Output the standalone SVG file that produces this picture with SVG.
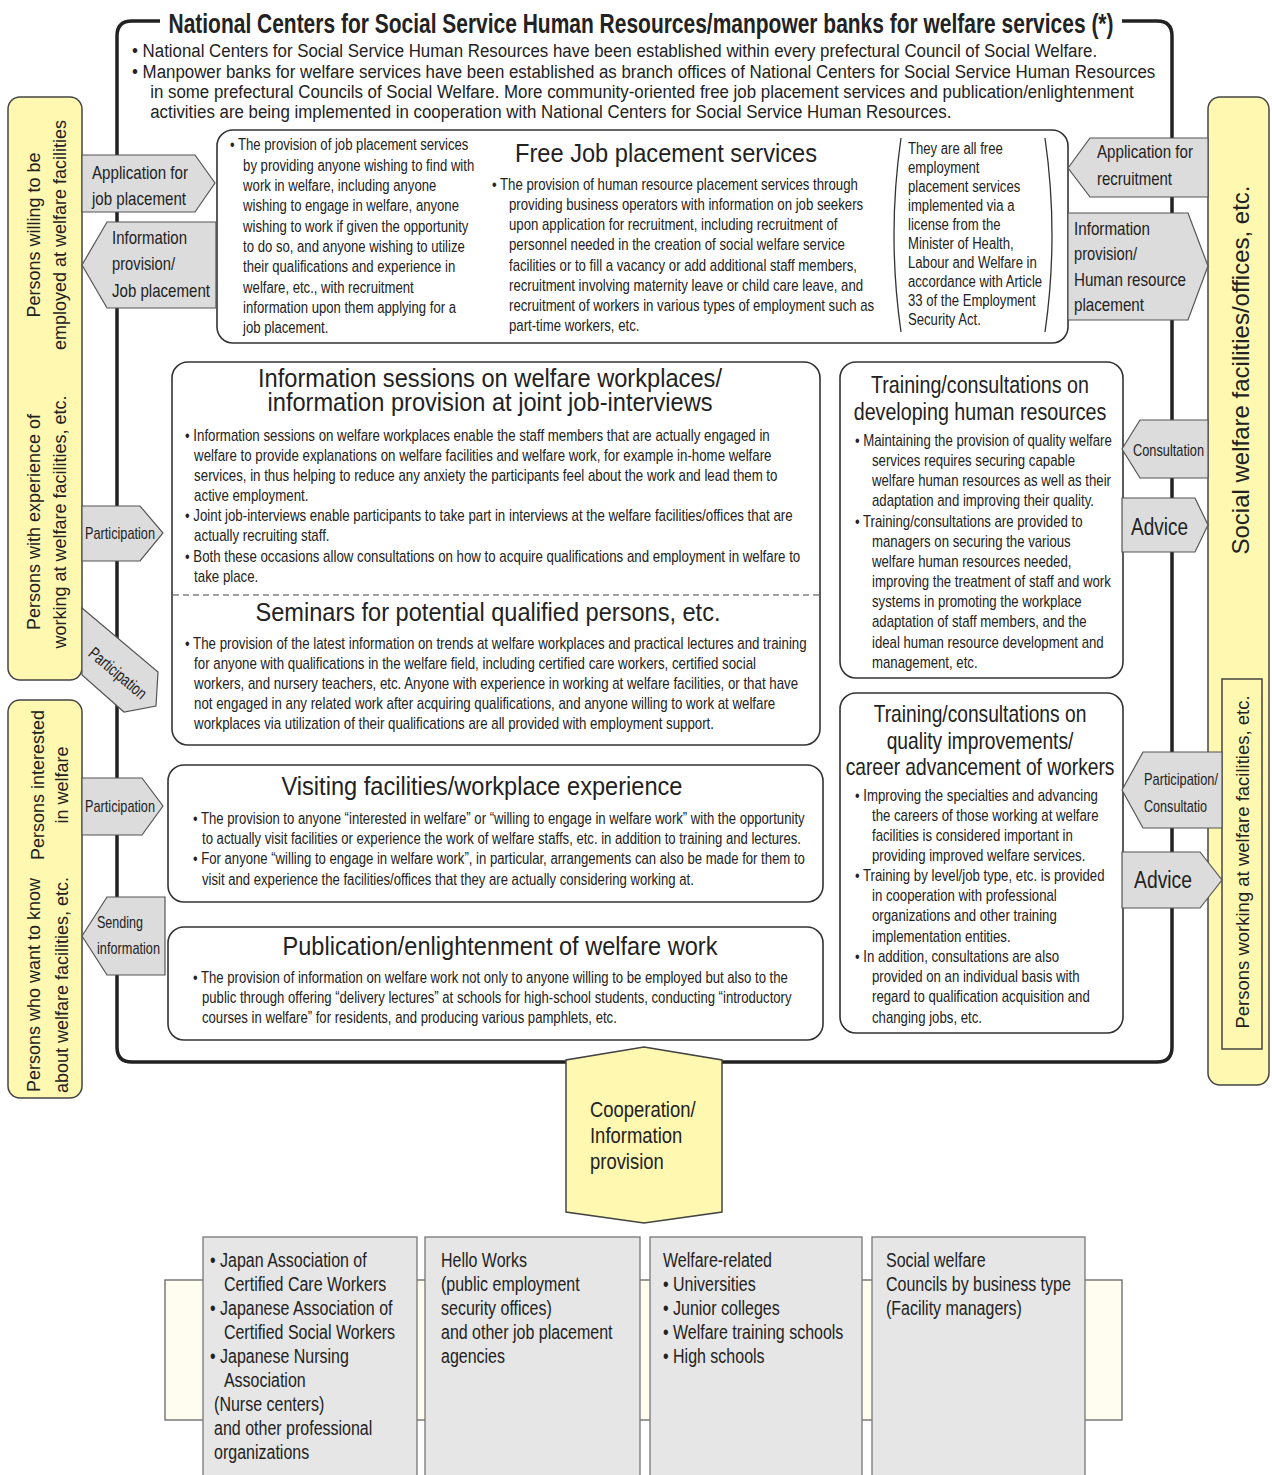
<svg xmlns="http://www.w3.org/2000/svg" width="1272" height="1475" viewBox="0 0 1272 1475">
<style>
text{font-family:"Liberation Sans",Arial,sans-serif;fill:#222}
.b{font-size:16px}
.top{font-size:19px}
.ttl{font-size:25px;text-anchor:middle}
.rt{font-size:24px;text-anchor:middle}
.lab{font-size:19px}
.lab2{font-size:17px}
.side{font-size:18px;text-anchor:middle}
.bot{font-size:19.5px}
.box{fill:#fff;stroke:#333;stroke-width:1.6}
.arr{fill:#dcdcdc;stroke:#555;stroke-width:1.2}
.yel{fill:#fff8b0;stroke:#444;stroke-width:1.5}
.gbox{fill:#e6e6e6;stroke:#777;stroke-width:1.3}
</style>
<rect width="1272" height="1475" fill="#fff"/>

<!-- main frame -->
<g id="frame">
<path d="M160 21 H132 Q117 21 117 36 V1047 Q117 1062 132 1062 H1157 Q1172 1062 1172 1047 V36 Q1172 21 1157 21 H1122" fill="none" stroke="#222" stroke-width="3.5"/>
<text x="641" y="33" text-anchor="middle" font-size="27" font-weight="bold" textLength="945" lengthAdjust="spacingAndGlyphs">National Centers for Social Service Human Resources/manpower banks for welfare services (*)</text>
<g transform="translate(132,0) scale(0.888,1)" class="top">
<text x="0" y="57.5">• National Centers for Social Service Human Resources have been established within every prefectural Council of Social Welfare.</text>
<text x="0" y="78">• Manpower banks for welfare services have been established as branch offices of National Centers for Social Service Human Resources</text>
<text x="20.5" y="98">in some prefectural Councils of Social Welfare. More community-oriented free job placement services and publication/enlightenment</text>
<text x="20.5" y="118">activities are being implemented in cooperation with National Centers for Social Service Human Resources.</text>
</g>
</g>

<!-- Free job placement -->
<g id="free-job">
<rect class="box" x="217" y="130" width="851" height="213" rx="16"/>
<text class="ttl" x="666" y="162" font-size="27" textLength="302" lengthAdjust="spacingAndGlyphs">Free Job placement services</text>
<g transform="translate(230,0) scale(0.82,1)" class="b">
<text x="0" y="150.5">• The provision of job placement services</text>
<text x="16" y="171">by providing anyone wishing to find with</text>
<text x="16" y="191">work in welfare, including anyone</text>
<text x="16" y="211.5">wishing to engage in welfare, anyone</text>
<text x="16" y="232">wishing to work if given the opportunity</text>
<text x="16" y="252.5">to do so, and anyone wishing to utilize</text>
<text x="16" y="272.5">their qualifications and experience in</text>
<text x="16" y="293">welfare, etc., with recruitment</text>
<text x="16" y="313.5">information upon them applying for a</text>
<text x="16" y="333.5">job placement.</text>
</g>
<g transform="translate(492,0) scale(0.825,1)" class="b">
<text x="0" y="190.5">• The provision of human resource placement services through</text>
<text x="20.6" y="210.5">providing business operators with information on job seekers</text>
<text x="20.6" y="230.5">upon application for recruitment, including recruitment of</text>
<text x="20.6" y="250.5">personnel needed in the creation of social welfare service</text>
<text x="20.6" y="271">facilities or to fill a vacancy or add additional staff members,</text>
<text x="20.6" y="291">recruitment involving maternity leave or child care leave, and</text>
<text x="20.6" y="311.5">recruitment of workers in various types of employment such as</text>
<text x="20.6" y="331.5">part-time workers, etc.</text>
</g>
<path d="M901 138 Q887 235 901 332" fill="none" stroke="#333" stroke-width="1.3"/>
<path d="M1045 138 Q1059 235 1045 332" fill="none" stroke="#333" stroke-width="1.3"/>
<g transform="translate(908,0) scale(0.82,1)" class="b">
<text x="0" y="154.5">They are all free</text>
<text x="0" y="173.5">employment</text>
<text x="0" y="192.5">placement services</text>
<text x="0" y="211.5">implemented via a</text>
<text x="0" y="230.5">license from the</text>
<text x="0" y="249.5">Minister of Health,</text>
<text x="0" y="268.5">Labour and Welfare in</text>
<text x="0" y="287.5">accordance with Article</text>
<text x="0" y="306.5">33 of the Employment</text>
<text x="0" y="325.5">Security Act.</text>
</g>
</g>

<!-- Information sessions / seminars -->
<g id="info-sessions">
<rect class="box" x="172" y="362" width="648" height="383" rx="16"/>
<text class="ttl" x="490" y="387" font-size="24" textLength="464" lengthAdjust="spacingAndGlyphs">Information sessions on welfare workplaces/</text>
<text class="ttl" x="490" y="411" font-size="24" textLength="445" lengthAdjust="spacingAndGlyphs">information provision at joint job-interviews</text>
<g transform="translate(185,0) scale(0.83,1)" class="b">
<text x="0" y="441.5">• Information sessions on welfare workplaces enable the staff members that are actually engaged in</text>
<text x="11" y="461.5">welfare to provide explanations on welfare facilities and welfare work, for example in-home welfare</text>
<text x="11" y="481.5">services, in thus helping to reduce any anxiety the participants feel about the work and lead them to</text>
<text x="11" y="501.5">active employment.</text>
<text x="0" y="521.5">• Joint job-interviews enable participants to take part in interviews at the welfare facilities/offices that are</text>
<text x="11" y="541.5">actually recruiting staff.</text>
<text x="0" y="562.5">• Both these occasions allow consultations on how to acquire qualifications and employment in welfare to</text>
<text x="11" y="582.5">take place.</text>
</g>
<line x1="173" y1="595" x2="819" y2="595" stroke="#444" stroke-width="1.2" stroke-dasharray="6,4"/>
<text class="ttl" x="488" y="620.5" font-size="27" textLength="465" lengthAdjust="spacingAndGlyphs">Seminars for potential qualified persons, etc.</text>
<g transform="translate(185,0) scale(0.83,1)" class="b">
<text x="0" y="649.5">• The provision of the latest information on trends at welfare workplaces and practical lectures and training</text>
<text x="11" y="669.5">for anyone with qualifications in the welfare field, including certified care workers, certified social</text>
<text x="11" y="689.5">workers, and nursery teachers, etc. Anyone with experience in working at welfare facilities, or that have</text>
<text x="11" y="709.5">not engaged in any related work after acquiring qualifications, and anyone willing to work at welfare</text>
<text x="11" y="729.5">workplaces via utilization of their qualifications are all provided with employment support.</text>
</g>
</g>

<!-- Visiting -->
<g id="visiting">
<rect class="box" x="168" y="765" width="655" height="137" rx="16"/>
<text class="ttl" x="482" y="794.5" font-size="27" textLength="401" lengthAdjust="spacingAndGlyphs">Visiting facilities/workplace experience</text>
<g transform="translate(193,0) scale(0.82,1)" class="b">
<text x="0" y="824.5">• The provision to anyone “interested in welfare” or “willing to engage in welfare work” with the opportunity</text>
<text x="11" y="844.5">to actually visit facilities or experience the work of welfare staffs, etc. in addition to training and lectures.</text>
<text x="0" y="864.5">• For anyone “willing to engage in welfare work”, in particular, arrangements can also be made for them to</text>
<text x="11" y="885.5">visit and experience the facilities/offices that they are actually considering working at.</text>
</g>
</g>

<!-- Publication -->
<g id="publication">
<rect class="box" x="168" y="927" width="655" height="113" rx="16"/>
<text class="ttl" x="500" y="955" font-size="27" textLength="435" lengthAdjust="spacingAndGlyphs">Publication/enlightenment of welfare work</text>
<g transform="translate(193,0) scale(0.82,1)" class="b">
<text x="0" y="983.5">• The provision of information on welfare work not only to anyone willing to be employed but also to the</text>
<text x="11" y="1003.5">public through offering “delivery lectures” at schools for high-school students, conducting “introductory</text>
<text x="11" y="1023.5">courses in welfare” for residents, and producing various pamphlets, etc.</text>
</g>
</g>

<!-- Training HR -->
<g id="training-hr">
<rect class="box" x="840" y="362" width="283" height="316" rx="16"/>
<g transform="translate(980,0) scale(0.82,1)" class="rt">
<text x="0" y="393">Training/consultations on</text>
<text x="0" y="420">developing human resources</text>
</g>
<g transform="translate(855,0) scale(0.825,1)" class="b">
<text x="0" y="446.5">• Maintaining the provision of quality welfare</text>
<text x="20.6" y="466.5">services requires securing capable</text>
<text x="20.6" y="486.5">welfare human resources as well as their</text>
<text x="20.6" y="506.5">adaptation and improving their quality.</text>
<text x="0" y="527.5">• Training/consultations are provided to</text>
<text x="20.6" y="547.5">managers on securing the various</text>
<text x="20.6" y="567.5">welfare human resources needed,</text>
<text x="20.6" y="587.5">improving the treatment of staff and work</text>
<text x="20.6" y="607.5">systems in promoting the workplace</text>
<text x="20.6" y="627.5">adaptation of staff members, and the</text>
<text x="20.6" y="648.5">ideal human resource development and</text>
<text x="20.6" y="668.5">management, etc.</text>
</g>
</g>

<!-- Training quality -->
<g id="training-quality">
<rect class="box" x="840" y="693" width="283" height="340" rx="16"/>
<g transform="translate(980,0) scale(0.8,1)" class="rt">
<text x="0" y="722">Training/consultations on</text>
<text x="0" y="749">quality improvements/</text>
<text x="0" y="775">career advancement of workers</text>
</g>
<g transform="translate(855,0) scale(0.825,1)" class="b">
<text x="0" y="801.5">• Improving the specialties and advancing</text>
<text x="20.6" y="821.5">the careers of those working at welfare</text>
<text x="20.6" y="841.5">facilities is considered important in</text>
<text x="20.6" y="861.5">providing improved welfare services.</text>
<text x="0" y="881.5">• Training by level/job type, etc. is provided</text>
<text x="20.6" y="901.5">in cooperation with professional</text>
<text x="20.6" y="921.5">organizations and other training</text>
<text x="20.6" y="942.5">implementation entities.</text>
<text x="0" y="962.5">• In addition, consultations are also</text>
<text x="20.6" y="982.5">provided on an individual basis with</text>
<text x="20.6" y="1002.5">regard to qualification acquisition and</text>
<text x="20.6" y="1023.5">changing jobs, etc.</text>
</g>
</g>

<!-- left actors -->
<g id="left-actors-1">
<rect class="yel" x="8" y="97" width="74" height="583" rx="12"/>
<text class="side" transform="translate(40.3,235) rotate(-90)">Persons willing to be</text>
<text class="side" transform="translate(66.3,235) rotate(-90)">employed at welfare facilities</text>
<text class="side" transform="translate(40.3,522) rotate(-90)">Persons with experience of</text>
<text class="side" transform="translate(66.3,522) rotate(-90)">working at welfare facilities, etc.</text>
</g>
<g id="left-actors-2">
<rect class="yel" x="8" y="700" width="74" height="398" rx="12"/>
<text class="side" transform="translate(44.3,785) rotate(-90)">Persons interested</text>
<text class="side" transform="translate(68.3,785) rotate(-90)">in welfare</text>
<text class="side" transform="translate(40.3,985) rotate(-90)">Persons who want to know</text>
<text class="side" transform="translate(68.3,985) rotate(-90)">about welfare facilities, etc.</text>
</g>
<g id="right-actors">
<rect class="yel" x="1208" y="97" width="61" height="988" rx="12"/>
<text text-anchor="middle" font-size="24" transform="translate(1248.5,370) rotate(-90)">Social welfare facilities/offices, etc.</text>
<rect class="yel" x="1222" y="679" width="40" height="370"/>
<text text-anchor="middle" font-size="18.5" transform="translate(1249,862) rotate(-90)">Persons working at welfare facilities, etc.</text>
</g>

<!-- connectors -->
<g id="connectors">
<polygon class="arr" points="82,155 195,155 215,183 195,212 82,212"/>
<text class="lab" x="92" y="178.5" textLength="96" lengthAdjust="spacingAndGlyphs">Application for</text>
<text class="lab" x="92" y="205" textLength="94" lengthAdjust="spacingAndGlyphs">job placement</text>

<polygon class="arr" points="82,265 107,222 216,222 216,308 107,308"/>
<text class="lab" x="112" y="243.5" textLength="75" lengthAdjust="spacingAndGlyphs">Information</text>
<text class="lab" x="112" y="269.5" textLength="63" lengthAdjust="spacingAndGlyphs">provision/</text>
<text class="lab" x="112" y="296.5" textLength="98" lengthAdjust="spacingAndGlyphs">Job placement</text>

<polygon class="arr" points="82,506 140,506 163,533 140,561 82,561"/>
<text class="lab2" x="85" y="539" textLength="70" lengthAdjust="spacingAndGlyphs">Participation</text>

<polygon class="arr" points="82,608 158,672 156,706 124,712 82,675"/>
<text class="lab2" transform="translate(118,673) rotate(40)" text-anchor="middle" y="6" textLength="70" lengthAdjust="spacingAndGlyphs">Participation</text>

<polygon class="arr" points="82,778 142,778 163,806 142,835 82,835"/>
<text class="lab2" x="85" y="812" textLength="70" lengthAdjust="spacingAndGlyphs">Participation</text>

<polygon class="arr" points="82,936 107,897 165,897 165,975 107,975"/>
<text class="lab2" x="97" y="928" textLength="46" lengthAdjust="spacingAndGlyphs">Sending</text>
<text class="lab2" x="97" y="954" textLength="63" lengthAdjust="spacingAndGlyphs">information</text>

<polygon class="arr" points="1068,168 1090,138 1208,138 1208,197 1090,197"/>
<text class="lab" x="1097" y="158" textLength="96" lengthAdjust="spacingAndGlyphs">Application for</text>
<text class="lab" x="1097" y="185" textLength="75" lengthAdjust="spacingAndGlyphs">recruitment</text>

<polygon class="arr" points="1068,213 1188,213 1208,266 1188,320 1068,320"/>
<text class="lab" x="1074" y="234.5" textLength="76" lengthAdjust="spacingAndGlyphs">Information</text>
<text class="lab" x="1074" y="259.5" textLength="63" lengthAdjust="spacingAndGlyphs">provision/</text>
<text class="lab" x="1074" y="285.5" textLength="112" lengthAdjust="spacingAndGlyphs">Human resource</text>
<text class="lab" x="1074" y="310.5" textLength="70" lengthAdjust="spacingAndGlyphs">placement</text>

<polygon class="arr" points="1122,449 1140,420 1208,420 1208,478 1140,478"/>
<text class="lab2" x="1133" y="456" textLength="71" lengthAdjust="spacingAndGlyphs">Consultation</text>

<polygon class="arr" points="1122,498 1195,498 1208,525 1195,552 1122,552"/>
<text x="1131" y="535" font-size="23" textLength="57" lengthAdjust="spacingAndGlyphs">Advice</text>

<polygon class="arr" points="1122,790 1143,752 1222,752 1222,828 1143,828"/>
<text class="lab2" x="1144" y="785" textLength="74" lengthAdjust="spacingAndGlyphs">Participation/</text>
<text class="lab2" x="1144" y="812" textLength="63" lengthAdjust="spacingAndGlyphs">Consultatio</text>

<polygon class="arr" points="1122,852 1200,852 1222,880 1200,908 1122,908"/>
<text x="1134" y="888" font-size="23" textLength="58" lengthAdjust="spacingAndGlyphs">Advice</text>

<polygon class="yel" points="644,1047 722,1060 722,1212 644,1223 566,1212 566,1060"/>
<g transform="translate(590,0) scale(0.82,1)" font-size="22.5">
<text x="0" y="1117">Cooperation/</text>
<text x="0" y="1143">Information</text>
<text x="0" y="1169">provision</text>
</g>
</g>

<!-- bottom organizations -->
<g id="bottom-band">
<rect x="165" y="1280" width="957" height="140" fill="#fffdf0" stroke="#666" stroke-width="1.3"/>
</g>
<g id="org-professional">
<rect class="gbox" x="203" y="1237" width="214" height="250"/>
<g transform="translate(210,0) scale(0.82,1)" class="bot">
<text x="0" y="1267">• Japan Association of</text>
<text x="17" y="1291">Certified Care Workers</text>
<text x="0" y="1315">• Japanese Association of</text>
<text x="17" y="1339">Certified Social Workers</text>
<text x="0" y="1363">• Japanese Nursing</text>
<text x="17" y="1387">Association</text>
<text x="5" y="1411">(Nurse centers)</text>
<text x="5" y="1435">and other professional</text>
<text x="5" y="1459">organizations</text>
</g>
</g>
<g id="org-hello-works">
<rect class="gbox" x="425" y="1237" width="215" height="250"/>
<g transform="translate(441,0) scale(0.82,1)" class="bot">
<text x="0" y="1267">Hello Works</text>
<text x="0" y="1291">(public employment</text>
<text x="0" y="1315">security offices)</text>
<text x="0" y="1339">and other job placement</text>
<text x="0" y="1363">agencies</text>
</g>
</g>
<g id="org-schools">
<rect class="gbox" x="650" y="1237" width="212" height="250"/>
<g transform="translate(663,0) scale(0.82,1)" class="bot">
<text x="0" y="1267">Welfare-related</text>
<text x="0" y="1291">• Universities</text>
<text x="0" y="1315">• Junior colleges</text>
<text x="0" y="1339">• Welfare training schools</text>
<text x="0" y="1363">• High schools</text>
</g>
</g>
<g id="org-councils">
<rect class="gbox" x="872" y="1237" width="213" height="250"/>
<g transform="translate(886,0) scale(0.82,1)" class="bot">
<text x="0" y="1267">Social welfare</text>
<text x="0" y="1291">Councils by business type</text>
<text x="0" y="1315">(Facility managers)</text>
</g>
</g>
</svg>
